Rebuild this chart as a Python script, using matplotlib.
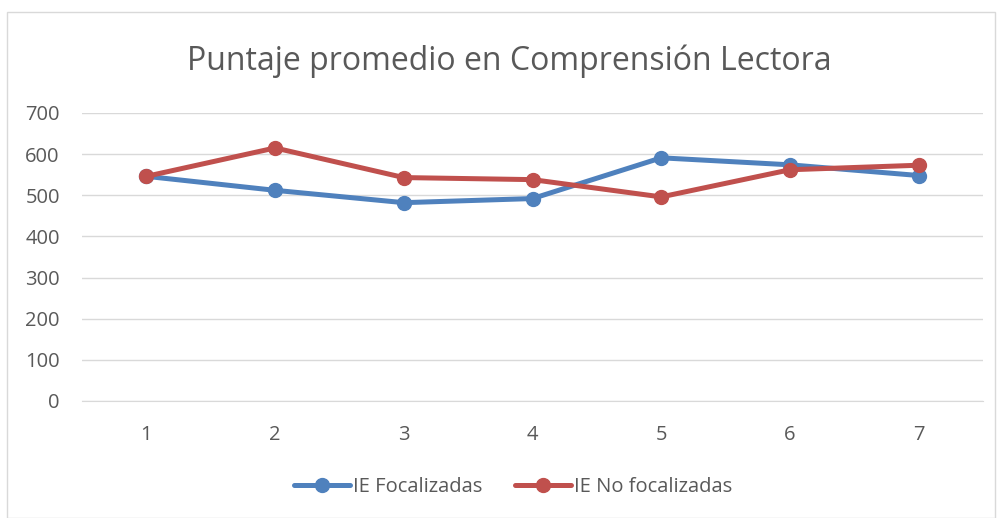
import matplotlib.pyplot as plt
from matplotlib.patches import Rectangle

categorias = ['1', '2', '3', '4', '5', '6', '7']
focalizadas = [546, 512, 482, 492, 591, 574, 548]
no_focalizadas = [546, 615, 543, 538, 496, 562, 573]
yticks = [0, 100, 200, 300, 400, 500, 600, 700]

plt.rcParams['font.family'] = ['Open Sans', 'DejaVu Sans']
gris = '#595959'

fig = plt.figure(figsize=(9.98, 5.18), dpi=100)
ax = fig.add_axes([0.0822, 0.2259, 0.9028, 0.556])

x = list(range(1, len(categorias) + 1))
ax.plot(x, focalizadas, '-o', color='#4F81BD', lw=3.6, ms=10, label='IE Focalizadas',
        solid_capstyle='round')
ax.plot(x, no_focalizadas, '-o', color='#C0504D', lw=3.6, ms=10, label='IE No focalizadas',
        solid_capstyle='round')

ax.set_xlim(0.5, 7.5)
ax.set_ylim(0, 700)
ax.set_xticks(x)
ax.set_xticklabels(categorias)
ax.set_yticks(yticks)
ax.grid(axis='y', color='#D9D9D9', lw=1)
ax.set_axisbelow(True)
for s in ['top', 'right', 'left']:
    ax.spines[s].set_visible(False)
ax.spines['bottom'].set_color('#D9D9D9')
ax.tick_params(length=0, labelsize=14.5, colors=gris)
ax.tick_params(axis='x', pad=17)
ax.tick_params(axis='y', pad=16)

fig.text(0.51, 0.882, 'Puntaje promedio en Comprensión Lectora', ha='center', va='center',
         fontsize=23, color=gris)

fig.legend(loc='center', bbox_to_anchor=(0.514, 0.06), ncol=2, frameon=False,
           fontsize=14.5, labelcolor=gris, handlelength=2.8, columnspacing=1.6,
           handletextpad=0.15, markerscale=1.0)

fig.patches.append(Rectangle((0.007, 0.0), 0.99, 0.977, transform=fig.transFigure,
                             fill=False, edgecolor='#D9D9D9', lw=1))

fig.savefig('out.png', dpi=100)
